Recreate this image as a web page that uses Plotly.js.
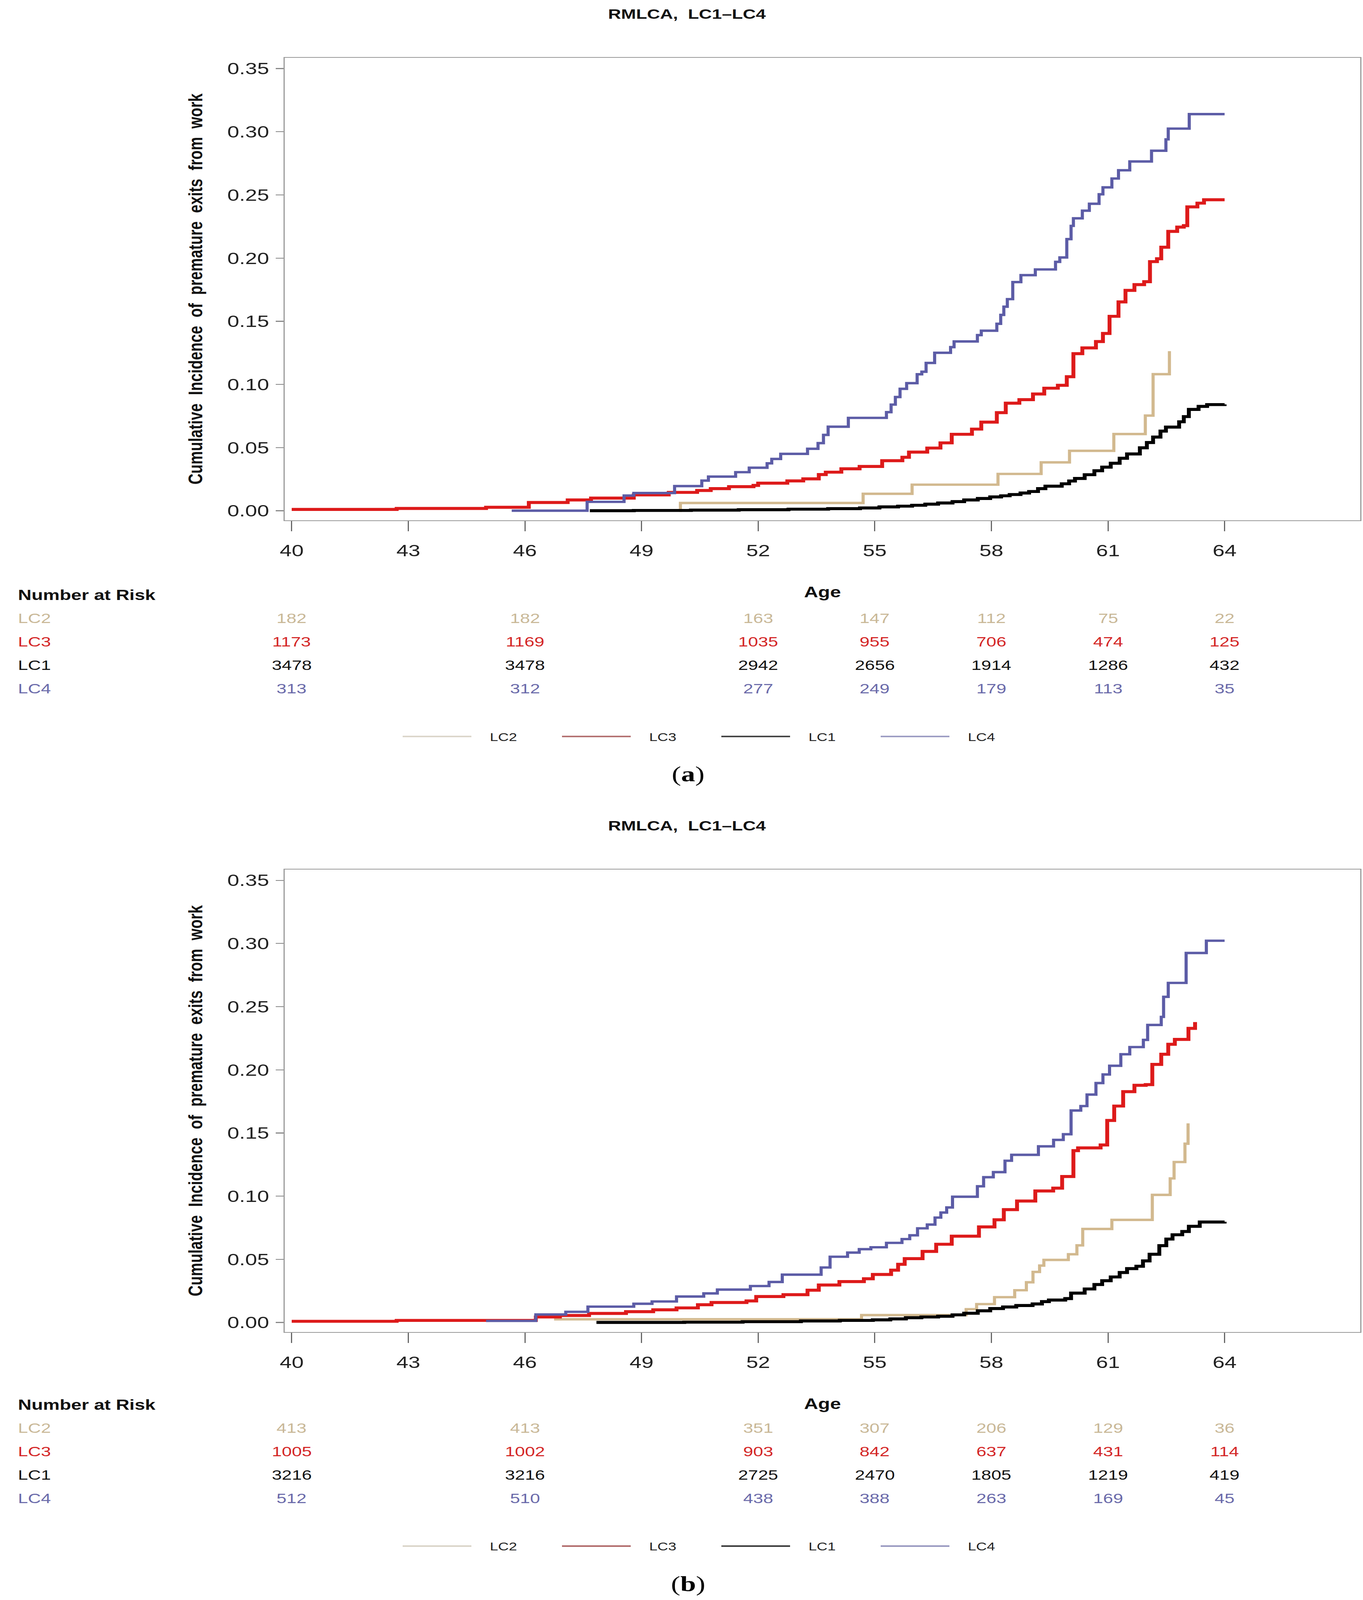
<!DOCTYPE html>
<html>
<head>
<meta charset="utf-8">
<script src="https://cdn.plot.ly/plotly-3.0.1.min.js"></script>
<style>
html,body{margin:0;padding:0;background:#ffffff;overflow:hidden;}
#chart{width:3490px;height:5320px;}
</style>
</head>
<body>
<div id="chart"></div>
<script>
// ---------------- DATA ----------------
const seriesNames = ['LC2', 'LC3', 'LC1', 'LC4'];
const xTicks = [40, 43, 46, 49, 52, 55, 58, 61, 64];
const yTicks = [0, 0.05, 0.10, 0.15, 0.20, 0.25, 0.30, 0.35];
const riskAges = [40, 46, 52, 55, 58, 61, 64];

// Panel (a)
const a_LC2_age = [49.97, 50.0, 54.7, 55.96, 58.17, 59.28, 60.01, 61.15, 61.96, 62.16, 62.58];
const a_LC2_cif = [0, 0.0061, 0.0134, 0.0206, 0.0291, 0.0383, 0.0474, 0.0607, 0.0753, 0.1081, 0.1263];

const a_LC3_age = [40.0, 42.7, 45.0, 46.1, 47.1, 47.7, 48.8, 49.7, 50.43, 50.78, 51.25, 51.88, 52.0, 52.75, 53.16, 53.56, 53.74, 54.14, 54.61, 55.19, 55.71, 55.88, 56.35, 56.69, 56.98, 57.5, 57.74, 58.14, 58.37, 58.72, 59.07, 59.36, 59.71, 59.94, 60.11, 60.34, 60.69, 60.87, 61.04, 61.27, 61.45, 61.68, 61.93, 62.08, 62.26, 62.37, 62.55, 62.78, 62.95, 63.04, 63.3, 63.47, 64.0];
const a_LC3_cif = [0.0010, 0.0018, 0.0027, 0.0065, 0.0085, 0.0100, 0.0125, 0.0145, 0.0160, 0.0175, 0.0190, 0.0200, 0.0218, 0.0236, 0.0252, 0.0286, 0.0305, 0.0332, 0.0350, 0.0396, 0.0423, 0.0464, 0.0496, 0.0537, 0.0605, 0.0646, 0.0701, 0.0776, 0.0851, 0.0879, 0.0924, 0.0970, 0.0993, 0.1061, 0.1243, 0.1289, 0.1339, 0.1403, 0.1539, 0.1653, 0.1744, 0.1790, 0.1813, 0.1972, 0.1995, 0.2086, 0.2211, 0.2245, 0.2257, 0.2405, 0.2435, 0.2462, 0.2462];

const a_LC1_age = [47.67, 48.8, 50.27, 51.5, 52.78, 53.8, 54.62, 55.12, 55.6, 55.96, 56.3, 56.63, 57.0, 57.3, 57.65, 57.97, 58.25, 58.47, 58.75, 58.97, 59.2, 59.39, 59.81, 60.0, 60.15, 60.4, 60.65, 60.85, 61.07, 61.3, 61.49, 61.82, 62.0, 62.16, 62.35, 62.49, 62.83, 62.95, 63.08, 63.33, 63.55, 64.0];
const a_LC1_cif = [0.0000, 0.0002, 0.0005, 0.0008, 0.0012, 0.0016, 0.0022, 0.0030, 0.0036, 0.0043, 0.0052, 0.0061, 0.0072, 0.0085, 0.0097, 0.0109, 0.0118, 0.0128, 0.0140, 0.0152, 0.0175, 0.0194, 0.0213, 0.0235, 0.0255, 0.0285, 0.0316, 0.0345, 0.0376, 0.0415, 0.0449, 0.0498, 0.0540, 0.0583, 0.0630, 0.0662, 0.0704, 0.0745, 0.0802, 0.0826, 0.0840, 0.0842];

const a_LC4_age = [45.66, 47.6, 48.55, 48.8, 49.85, 50.55, 50.72, 51.42, 51.77, 52.23, 52.35, 52.58, 53.27, 53.54, 53.68, 53.8, 54.32, 55.3, 55.42, 55.53, 55.65, 55.82, 56.09, 56.21, 56.32, 56.54, 56.95, 57.04, 57.64, 57.74, 58.14, 58.24, 58.32, 58.41, 58.55, 58.76, 59.13, 59.65, 59.76, 59.94, 60.05, 60.11, 60.34, 60.52, 60.77, 60.87, 61.1, 61.27, 61.56, 62.12, 62.49, 62.55, 63.09, 64.0];
const a_LC4_cif = [0.0000, 0.0070, 0.0120, 0.0140, 0.0195, 0.0238, 0.0270, 0.0305, 0.0340, 0.0375, 0.0410, 0.0450, 0.0490, 0.0535, 0.0600, 0.0665, 0.0735, 0.0780, 0.0840, 0.0900, 0.0965, 0.1010, 0.1080, 0.1100, 0.1170, 0.1250, 0.1295, 0.1340, 0.1390, 0.1425, 0.1480, 0.1550, 0.1615, 0.1675, 0.1810, 0.1865, 0.1910, 0.1970, 0.2005, 0.2150, 0.2255, 0.2315, 0.2375, 0.2430, 0.2505, 0.2560, 0.2630, 0.2695, 0.2765, 0.2850, 0.2940, 0.3025, 0.3140, 0.3140];

const a_risk_LC2 = [182, 182, 163, 147, 112, 75, 22];
const a_risk_LC3 = [1173, 1169, 1035, 955, 706, 474, 125];
const a_risk_LC1 = [3478, 3478, 2942, 2656, 1914, 1286, 432];
const a_risk_LC4 = [313, 312, 277, 249, 179, 113, 35];

// Panel (b)
const b_LC2_age = [46.75, 54.66, 57.35, 57.62, 58.08, 58.6, 58.9, 59.07, 59.24, 59.35, 59.98, 60.2, 60.35, 61.1, 62.14, 62.6, 62.7, 62.98, 63.06];
const b_LC2_cif = [0.0025, 0.0058, 0.0105, 0.0145, 0.0200, 0.0255, 0.0318, 0.0400, 0.0450, 0.0495, 0.0540, 0.0610, 0.0740, 0.0812, 0.1010, 0.1140, 0.1270, 0.1415, 0.1576];

const b_LC3_age = [40.0, 42.7, 46.28, 46.9, 47.65, 48.6, 49.3, 49.9, 50.45, 50.8, 51.7, 51.95, 52.65, 53.27, 53.56, 54.09, 54.72, 54.95, 55.42, 55.6, 55.77, 56.23, 56.58, 56.98, 57.68, 58.08, 58.32, 58.66, 59.13, 59.59, 59.82, 60.11, 60.23, 60.81, 60.98, 61.16, 61.39, 61.68, 61.97, 62.14, 62.37, 62.55, 62.72, 63.07, 63.24];
const b_LC3_cif = [0.0009, 0.0016, 0.0043, 0.0055, 0.0071, 0.0085, 0.0100, 0.0115, 0.0140, 0.0158, 0.0170, 0.0205, 0.0220, 0.0255, 0.0296, 0.0323, 0.0346, 0.0380, 0.0414, 0.0460, 0.0505, 0.0562, 0.0619, 0.0683, 0.0756, 0.0813, 0.0893, 0.0961, 0.1041, 0.1063, 0.1155, 0.1360, 0.1382, 0.1405, 0.1599, 0.1713, 0.1827, 0.1877, 0.1883, 0.2043, 0.2123, 0.2202, 0.2241, 0.2328, 0.2378];

const b_LC1_age = [47.84, 50.1, 51.6, 53.1, 54.1, 54.95, 55.4, 55.8, 56.2, 56.63, 57.0, 57.3, 57.65, 57.97, 58.3, 58.64, 59.06, 59.3, 59.48, 59.9, 60.05, 60.4, 60.65, 60.85, 61.07, 61.3, 61.49, 61.73, 61.9, 62.07, 62.32, 62.5, 62.66, 62.91, 63.08, 63.36, 64.0];
const b_LC1_cif = [0.0000, 0.0002, 0.0006, 0.0012, 0.0016, 0.0020, 0.0028, 0.0037, 0.0043, 0.0049, 0.0060, 0.0073, 0.0092, 0.0110, 0.0122, 0.0134, 0.0146, 0.0165, 0.0177, 0.0189, 0.0232, 0.0265, 0.0300, 0.0330, 0.0360, 0.0395, 0.0426, 0.0445, 0.0487, 0.0540, 0.0608, 0.0660, 0.0694, 0.0720, 0.0761, 0.0795, 0.0797];

const b_LC4_age = [45.0, 46.28, 47.05, 47.62, 48.8, 49.27, 49.9, 50.6, 50.95, 51.8, 52.28, 52.62, 53.62, 53.85, 54.3, 54.6, 54.9, 55.3, 55.7, 55.9, 56.1, 56.35, 56.55, 56.7, 56.85, 57.0, 57.64, 57.8, 58.05, 58.35, 58.52, 59.21, 59.6, 59.85, 60.05, 60.3, 60.46, 60.69, 60.87, 61.04, 61.33, 61.56, 61.91, 62.02, 62.37, 62.43, 62.55, 63.01, 63.53, 64.0];
const b_LC4_cif = [0.0012, 0.0063, 0.0084, 0.0125, 0.0148, 0.0166, 0.0205, 0.0230, 0.0260, 0.0288, 0.0320, 0.0378, 0.0435, 0.0520, 0.0553, 0.0580, 0.0595, 0.0630, 0.0660, 0.0690, 0.0745, 0.0775, 0.0830, 0.0870, 0.0910, 0.0995, 0.1078, 0.1150, 0.1190, 0.1280, 0.1327, 0.1394, 0.1445, 0.1490, 0.1678, 0.1713, 0.1804, 0.1895, 0.1963, 0.2032, 0.2123, 0.2180, 0.2237, 0.2355, 0.2419, 0.2578, 0.2688, 0.2925, 0.3022, 0.3022];

const b_risk_LC2 = [413, 413, 351, 307, 206, 129, 36];
const b_risk_LC3 = [1005, 1002, 903, 842, 637, 431, 114];
const b_risk_LC1 = [3216, 3216, 2725, 2470, 1805, 1219, 419];
const b_risk_LC4 = [512, 510, 438, 388, 263, 169, 45];

// ---------------- STYLE ----------------
const W = 3490, H = 5320;
const FONT = 'Liberation Sans, Arial, Helvetica, sans-serif';
const SERIF = 'Liberation Serif, Times New Roman, serif';
const lineColor = {LC2: '#D2B98F', LC3: '#DD1A1A', LC1: '#000000', LC4: '#5C5CA6'};
const lineWidth = {LC2: 8, LC3: 10, LC1: 10, LC4: 8};
const textColor = {LC2: '#C9B897', LC3: '#D42626', LC1: '#111111', LC4: '#6A6AAA'};
const legColor = {LC2: '#DAD4C8', LC3: '#B06A6A', LC1: '#3A3A3A', LC4: '#9898C0'};
const NB = '\u00A0\u00A0\u00A0\u00A0';
function py(p) { return 1 - p / H; }

const panels = [
  {id: '', plotOff: 0, tabOff: 0, label: 'a',
   data: {LC2: [a_LC2_age, a_LC2_cif], LC3: [a_LC3_age, a_LC3_cif], LC1: [a_LC1_age, a_LC1_cif], LC4: [a_LC4_age, a_LC4_cif]},
   risk: {LC2: a_risk_LC2, LC3: a_risk_LC3, LC1: a_risk_LC1, LC4: a_risk_LC4}},
  {id: '2', plotOff: 2699, tabOff: 2692, label: 'b',
   data: {LC2: [b_LC2_age, b_LC2_cif], LC3: [b_LC3_age, b_LC3_cif], LC1: [b_LC1_age, b_LC1_cif], LC4: [b_LC4_age, b_LC4_cif]},
   risk: {LC2: b_risk_LC2, LC3: b_risk_LC3, LC1: b_risk_LC1, LC4: b_risk_LC4}}
];

const traces = [];
const annotations = [];
const TITLE = '<b>RMLCA,\u00A0 LC1\u2013LC4</b>';
const layout = {
  width: W, height: H,
  margin: {l: 0, r: 0, t: 0, b: 0},
  paper_bgcolor: '#ffffff', plot_bgcolor: '#ffffff',
  font: {family: FONT, color: '#222222'},
  showlegend: true,
  title: {text: TITLE, x: 1759 / W, xanchor: 'center', xref: 'paper',
          y: py(46), yanchor: 'middle', yref: 'paper', font: {family: FONT, size: 46, color: '#111111'}},
  annotations: annotations
};

const rowY = [2056, 2134, 2212, 2290];

panels.forEach(function (p, pi) {
  const xa = 'x' + p.id, ya = 'y' + p.id;
  const legName = 'legend' + p.id;
  seriesNames.forEach(function (s) {
    traces.push({
      x: p.data[s][0], y: p.data[s][1], type: 'scatter', mode: 'lines',
      line: {shape: 'hv', color: lineColor[s], width: lineWidth[s]},
      xaxis: xa, yaxis: ya, showlegend: false, hoverinfo: 'skip', name: s
    });
  });
  seriesNames.forEach(function (s) {
    traces.push({
      x: [null], y: [null], type: 'scatter', mode: 'lines',
      line: {color: legColor[s], width: 5},
      xaxis: xa, yaxis: ya, showlegend: true, legend: legName, name: NB + s, hoverinfo: 'skip'
    });
  });

  layout['xaxis' + p.id] = {
    domain: [729 / W, 3483 / W], range: [39.82, 67.49], anchor: ya,
    tickmode: 'array', tickvals: xTicks, ticktext: xTicks.map(String),
    ticks: 'outside', ticklen: 34, tickwidth: 3, tickcolor: '#666666',
    ticklabelstandoff: 17,
    showline: true, linecolor: '#9A9A9A', linewidth: 3, mirror: true,
    showgrid: false, zeroline: false,
    tickfont: {family: FONT, size: 55, color: '#222222'},
    title: {text: '<b>Age</b>', font: {family: FONT, size: 50, color: '#111111'}, standoff: 90}
  };
  layout['yaxis' + p.id] = {
    domain: [py(1730 + p.plotOff), py(192 + p.plotOff)], range: [-0.0076, 0.3586], anchor: xa,
    tickmode: 'array', tickvals: yTicks, tickformat: '.2f',
    ticks: 'outside', ticklen: 20, tickwidth: 3, tickcolor: '#888888',
    ticklabelstandoff: 6,
    showline: true, linecolor: '#9A9A9A', linewidth: 3, mirror: true,
    showgrid: false, zeroline: false,
    tickfont: {family: FONT, size: 55, color: '#222222'},
    title: {text: '<b>Cumulative  Incidence  of  premature  exits  from  work</b>',
            font: {family: FONT, size: 50, color: '#111111'}, standoff: 48}
  };
  layout[legName] = {
    orientation: 'h', x: 1026 / W, xanchor: 'left', y: py(2449 + p.tabOff), yanchor: 'middle',
    xref: 'paper', yref: 'paper', traceorder: 'normal',
    itemwidth: 176, entrywidth: 217, entrywidthmode: 'pixels',
    font: {family: FONT, size: 38, color: '#222222'}, bgcolor: 'rgba(0,0,0,0)', borderwidth: 0
  };

  if (pi > 0) {
    annotations.push({xref: 'paper', yref: 'paper', x: 1759 / W, y: py(46 + p.plotOff), xanchor: 'center', yanchor: 'middle',
      text: TITLE, showarrow: false, font: {family: FONT, size: 46, color: '#111111'}});
  }
  annotations.push({xref: 'paper', yref: 'paper', x: 44 / W, y: py(1978 + p.tabOff), xanchor: 'left', yanchor: 'middle',
    text: '<b>Number at Risk</b>', showarrow: false, font: {family: FONT, size: 48, color: '#111111'}});
  seriesNames.forEach(function (s, r) {
    annotations.push({xref: 'paper', yref: 'paper', x: 44 / W, y: py(rowY[r] + p.tabOff), xanchor: 'left', yanchor: 'middle',
      text: s, showarrow: false, font: {family: FONT, size: 46, color: textColor[s]}});
    riskAges.forEach(function (age, i) {
      annotations.push({xref: xa, yref: 'paper', x: age, y: py(rowY[r] + p.tabOff), xanchor: 'center', yanchor: 'middle',
        text: String(p.risk[s][i]), showarrow: false, font: {family: FONT, size: 46, color: textColor[s]}});
    });
  });
  annotations.push({xref: 'paper', yref: 'paper', x: 1762 / W, y: py(2574 + p.tabOff), xanchor: 'center', yanchor: 'middle',
    text: '(<b>' + p.label + '</b>)', showarrow: false, font: {family: SERIF, size: 72, color: '#000000'}});
});

const chartEl = document.getElementById('chart');
Plotly.newPlot(chartEl, traces, layout, {staticPlot: true, displayModeBar: false}).then(function () {
  // The browser screen may be shorter than the 3490x5320 design; fit the whole figure into it.
  const sx = Math.min(1, window.innerWidth / W);
  const sy = Math.min(1, window.innerHeight / H);
  if (sx < 1 || sy < 1) {
    chartEl.style.transformOrigin = '0 0';
    chartEl.style.transform = 'scale(' + sx + ',' + sy + ')';
  }
});
</script>
</body>
</html>
